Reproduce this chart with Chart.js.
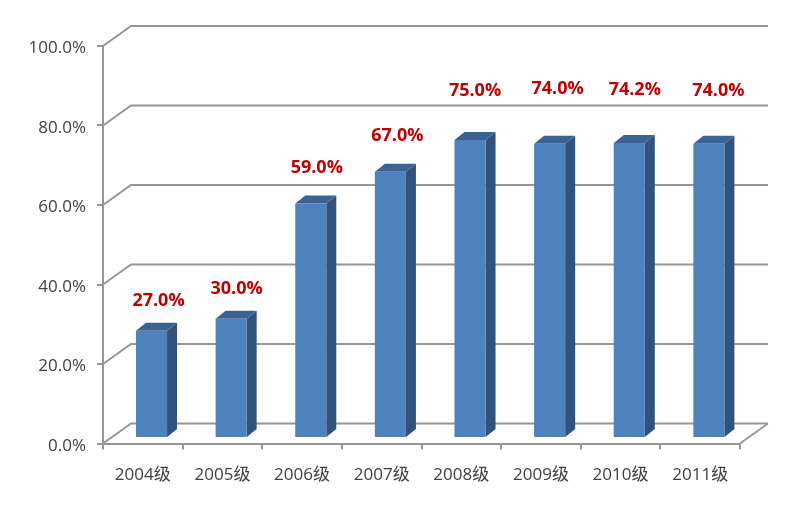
<!DOCTYPE html>
<html>
<head>
<meta charset="utf-8">
<style>
  html, body { margin: 0; padding: 0; background: #fff; }
  #wrap { width: 800px; height: 509px; }
</style>
<script src="https://cdn.jsdelivr.net/npm/chart.js@4"></script>
</head>
<body>
<div id="wrap"><canvas id="chart"></canvas></div>
<script>
const categories = ["2004级", "2005级", "2006级", "2007级", "2008级", "2009级", "2010级", "2011级"];
const rates = [27, 30, 59, 67, 75, 74, 74.2, 74];

// hand placed labels in the original, px from the default spot above each bar
const labelNudgeX = [2, 0.5, 1, 2, 0, 3, 0.5, 4.5];
const labelNudgeY = [35, 35, 41, 41, 54, 60, 58, 58];

const gridColor = "#969696";
const wallDx = 28, wallDy = -20;   // back wall offset
const barDx = 8.7, barDy = -5.5;   // bars stand inside the floor
const depthDx = 10, depthDy = -8;  // bar depth

// fake 3d: back wall, floor and the side/top of each bar, all from the scales
const fake3d = {
  id: "fake3d",
  beforeDatasetsDraw(chart) {
    const { ctx, chartArea: a, scales: { y } } = chart;
    ctx.save();
    ctx.strokeStyle = gridColor;
    ctx.lineWidth = 2;
    y.ticks.forEach((t) => {
      const py = y.getPixelForValue(t.value);
      ctx.beginPath();
      ctx.moveTo(a.left, py);
      ctx.lineTo(a.left + wallDx, py + wallDy);
      ctx.lineTo(a.right + wallDx, py + wallDy);
      ctx.stroke();
    });
    ctx.beginPath();
    ctx.moveTo(a.right, a.bottom);
    ctx.lineTo(a.right + wallDx, a.bottom + wallDy);
    ctx.stroke();

    chart.getDatasetMeta(0).data.forEach((bar) => {
      const l = bar.x - bar.width / 2 + barDx;
      const r = bar.x + bar.width / 2 + barDx;
      const t = bar.y + barDy;
      const b = bar.base + barDy;
      ctx.fillStyle = "#31527C";
      ctx.beginPath();
      ctx.moveTo(r, t);
      ctx.lineTo(r + depthDx, t + depthDy);
      ctx.lineTo(r + depthDx, b + depthDy);
      ctx.lineTo(r, b);
      ctx.closePath();
      ctx.fill();
      ctx.fillStyle = "#3C6291";
      ctx.beginPath();
      ctx.moveTo(l, t);
      ctx.lineTo(l + depthDx, t + depthDy);
      ctx.lineTo(r + depthDx, t + depthDy);
      ctx.lineTo(r, t);
      ctx.closePath();
      ctx.fill();
    });
    ctx.restore();

    ctx.save();
    ctx.translate(barDx, barDy);
  },
  afterDatasetsDraw(chart) {
    const { ctx } = chart;
    ctx.restore();

    ctx.save();
    ctx.fillStyle = "#C00000";
    ctx.font = "bold 18px 'Open Sans', 'Noto Sans', sans-serif";
    ctx.textAlign = "center";
    ctx.textBaseline = "middle";
    chart.getDatasetMeta(0).data.forEach((bar, i) => {
      const txt = rates[i].toFixed(1) + "%";
      ctx.fillText(txt, bar.x + barDx + depthDx / 2 + labelNudgeX[i], bar.y + barDy - labelNudgeY[i] + 5);
    });
    ctx.restore();
  },
};

new Chart(document.getElementById("chart"), {
  type: "bar",
  data: {
    labels: categories,
    datasets: [
      {
        data: rates,
        backgroundColor: "#4F81BD",
        borderWidth: 0,
        barPercentage: 0.39,
        categoryPercentage: 1,
        clip: false,
      },
    ],
  },
  plugins: [fake3d],
  options: {
    responsive: true,
    maintainAspectRatio: false,
    animation: false,
    layout: { padding: { top: 46, right: 60, left: 0, bottom: 0 } },
    plugins: { legend: { display: false }, tooltip: { enabled: false } },
    scales: {
      x: {
        afterFit: (s) => { s.height = 65.5; },
        border: { color: gridColor, width: 2 },
        grid: { drawOnChartArea: false, color: gridColor, lineWidth: 2, tickLength: 6 },
        ticks: {
          color: "#404040",
          padding: 15,
          maxRotation: 0,
          font: { size: 17, family: "'Open Sans', 'Noto Sans CJK SC', sans-serif" },
        },
      },
      y: {
        min: 0,
        max: 100,
        afterFit: (s) => { s.width = 103; },
        border: { color: gridColor, width: 2 },
        grid: { drawOnChartArea: false, color: gridColor, lineWidth: 2, tickLength: 6 },
        ticks: {
          stepSize: 20,
          color: "#404040",
          padding: 11,
          labelOffset: 2.5,
          font: { size: 17, family: "'Open Sans', 'Noto Sans CJK SC', sans-serif" },
          callback: (v) => v.toFixed(1) + "%",
        },
      },
    },
  },
});
</script>
</body>
</html>
